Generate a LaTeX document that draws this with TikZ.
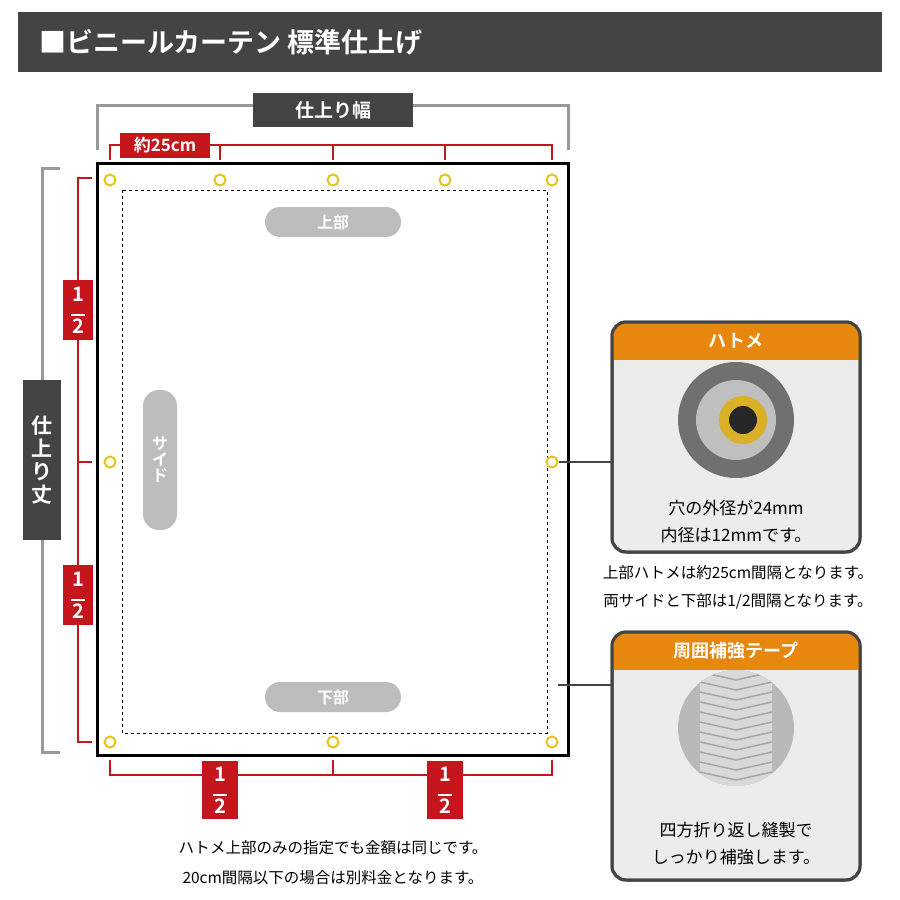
\documentclass[tikz,border=0pt]{standalone}
\usepackage{fontspec}
\setmainfont{Noto Sans CJK JP}
\newfontfamily\jpbold{Noto Sans CJK JP Bold}
\definecolor{darkbar}{HTML}{444444}
\definecolor{redline}{HTML}{C4161C}
\definecolor{orangehead}{HTML}{E8870E}
\definecolor{pillgray}{HTML}{BDBDBD}
\definecolor{eyelet}{HTML}{E5C51C}
\begin{document}
\begin{tikzpicture}[x=1pt,y=-1pt,
    darkbox/.style={fill=darkbar,text=white,font=\jpbold\fontsize{19}{19}\selectfont,inner sep=0pt},
    redbox/.style={fill=redline,text=white,font=\jpbold\fontsize{17}{17}\selectfont,inner sep=0pt},
    pill/.style={fill=pillgray,rounded corners=15pt,text=white,font=\jpbold\fontsize{16}{16}\selectfont,inner sep=0pt},
    grom/.style={circle,draw=eyelet,line width=2pt,minimum size=11pt,inner sep=0pt,fill=white},
    redbr/.style={draw=redline,line width=2.5pt},
    graybr/.style={draw=gray!80,line width=3pt},
    panel/.style={draw=darkbar,line width=3pt,fill=gray!15,rounded corners=14pt},
    note/.style={font=\fontsize{15.5}{15.5}\selectfont},
  ]
  \useasboundingbox (0,0) rectangle (900,900);
  % title
  \fill[darkbar] (18,12) rectangle (882,72);
  \node[anchor=west,text=white,font=\jpbold\fontsize{27}{27}\selectfont] (title) at (36,42) {■ビニールカーテン 標準仕上げ};
  % width bracket
  \draw[graybr] (97,150) -- (97,105) -- (568,105) -- (568,150);
  \node[darkbox,minimum width=160pt,minimum height=34pt] (wlab) at (333,110) {仕上り幅};
  \draw[redbr] (110,160) -- (110,145) -- (552,145) -- (552,160);
  \foreach \x in {220,333,445}{\draw[redbr] (\x,145) -- (\x,160);}
  \node[redbox,minimum width=90pt,minimum height=25pt] (pitch) at (165,145) {約25cm};
  % height bracket
  \draw[graybr] (60,168) -- (42,168) -- (42,752) -- (60,752);
  \node[darkbox,minimum width=38pt,minimum height=160pt,align=center,font=\jpbold\fontsize{21}{23}\selectfont] (hlab) at (42,460) {仕\\上\\り\\丈};
  \draw[redbr] (92,178) -- (78,178) -- (78,742) -- (92,742);
  \draw[redbr] (78,462) -- (92,462);
  \foreach \y [count=\i] in {310,595}{
    \node[redbox,minimum width=30pt,minimum height=60pt,align=center,font=\jpbold\fontsize{20}{20}\selectfont] (lh\i) at (78,\y) {1\\[-5pt]\rule{14pt}{2pt}\\[-3pt]2};}
  % bottom bracket
  \draw[redbr] (110,760) -- (110,775) -- (552,775) -- (552,760);
  \draw[redbr] (333,775) -- (333,760);
  \foreach \x [count=\i] in {220,445}{
    \node[redbox,minimum width=36pt,minimum height=58pt,align=center,font=\jpbold\fontsize{20}{20}\selectfont] (bh\i) at (\x,790) {1\\[-5pt]\rule{14pt}{2pt}\\[-3pt]2};}
  % curtain
  \draw[line width=3pt,fill=white] (97,163) rectangle (568,755);
  \draw[dashed,line width=0.7pt] (122,190) rectangle (547,733);
  \foreach \x [count=\i] in {110,220,333,445,552}{\node[grom] (t\i) at (\x,180) {};}
  \node[grom] (sl) at (110,462) {};
  \node[grom] (sr) at (552,462) {};
  \foreach \x [count=\i] in {110,333,552}{\node[grom] (b\i) at (\x,742) {};}
  \coordinate (tape) at (558,685);
  \node[pill,minimum width=136pt,minimum height=30pt] (top) at (333,222) {上部};
  \node[pill,minimum width=136pt,minimum height=30pt] (bottom) at (333,697) {下部};
  \node[pill,minimum width=34pt,minimum height=140pt,rounded corners=16pt,align=center] (side) at (160,460) {サ\\イ\\ド};
  % panel 1
  \draw[panel] (612,322) rectangle (860,552);
  \begin{scope}
    \clip[rounded corners=14pt] (612,322) rectangle (860,552);
    \fill[orangehead] (612,322) rectangle (860,360);
  \end{scope}
  \draw[darkbar,line width=3pt,rounded corners=14pt] (612,322) rectangle (860,552);
  \node[text=white,font=\jpbold\fontsize{18}{18}\selectfont] (p1h) at (736,341) {ハトメ};
  \fill[gray!60!black!80] (736,420) circle (58pt);
  \fill[gray!50] (736,420) circle (40pt);
  \fill[eyelet!70!brown] (743,420) circle (24pt);
  \fill[black!85] (743,420) circle (14pt);
  \node[note,font=\fontsize{17}{17}\selectfont] (p1a) at (736,508) {穴の外径が24mm};
  \node[note,font=\fontsize{17}{17}\selectfont] (p1b) at (736,535) {内径は12mmです。};
  \node[note] (n1) at (738,573) {上部ハトメは約25cm間隔となります。};
  \node[note] (n2) at (738,601) {両サイドと下部は1/2間隔となります。};
  \draw[darkbar,line width=2.5pt] (sr) -- (612,462);
  % panel 2
  \draw[panel] (612,632) rectangle (860,880);
  \begin{scope}
    \clip[rounded corners=14pt] (612,632) rectangle (860,880);
    \fill[orangehead] (612,632) rectangle (860,670);
  \end{scope}
  \draw[darkbar,line width=3pt,rounded corners=14pt] (612,632) rectangle (860,880);
  \node[text=white,font=\jpbold\fontsize{18}{18}\selectfont] (p2h) at (736,651) {周囲補強テープ};
  \begin{scope}
    \clip (736,728) circle (58pt);
    \fill[gray!55] (678,670) rectangle (794,786);
    \fill[gray!30] (700,670) rectangle (772,786);
    \foreach \y in {672,682,...,786}{\draw[gray!70,line width=1.5pt] (700,\y) -- (736,\y+8) -- (772,\y);}
  \end{scope}
  \node[note,font=\fontsize{17}{17}\selectfont] (p2a) at (736,830) {四方折り返し縫製で};
  \node[note,font=\fontsize{17}{17}\selectfont] (p2b) at (736,857) {しっかり補強します。};
  \draw[darkbar,line width=2.5pt] (tape) -- (612,685);
  % notes
  \node[note] (m1) at (333,848) {ハトメ上部のみの指定でも金額は同じです。};
  \node[note] (m2) at (333,878) {20cm間隔以下の場合は別料金となります。};
\end{tikzpicture}
\end{document}
